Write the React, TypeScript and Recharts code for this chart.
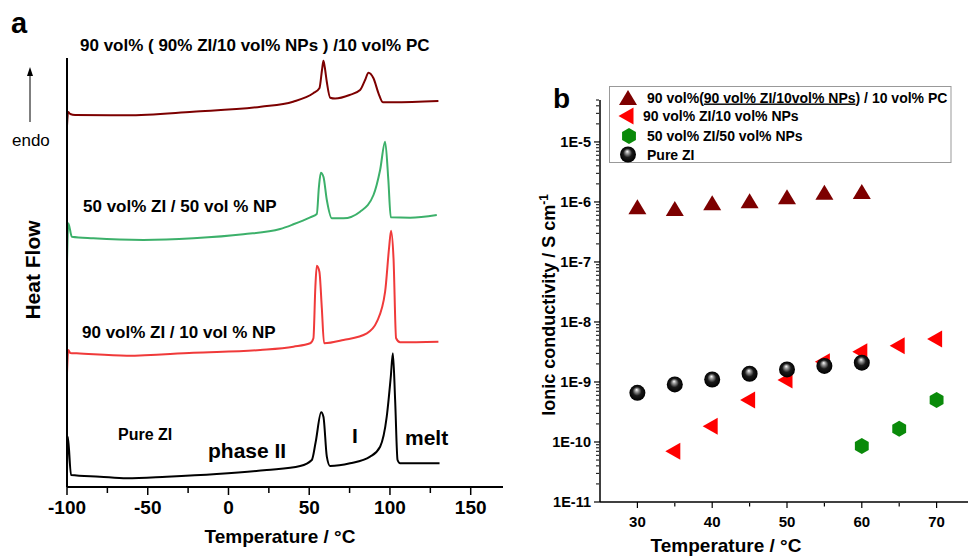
import React from 'react';
import { LineChart, Line, ScatterChart, Scatter, XAxis, YAxis } from 'recharts';

const FONT = '"Liberation Sans", Arial, Helvetica, sans-serif';

// ---- panel a: DSC traces, [temperature in °C, heat flow (a.u., stacked)] ----
const pcTrace: [number, number][] = [
  [-100, 361], [-99.3, 375], [-98, 373], [-95, 372], [-63, 371.7], [-22, 375.3],
  [20, 380.3], [40, 385.3], [52.5, 393.7], [56.3, 398.7], [58, 418], [58.8, 426.3],
  [59.6, 420], [60.9, 405], [63, 389.3], [66, 388.5], [75, 392], [81.5, 397],
  [84.6, 407], [86.7, 414.3], [89.8, 408.7], [92.9, 393.7], [95.6, 384.7],
  [102, 384.7], [130, 386],
];
const np50Trace: [number, number][] = [
  [-100, 225.3], [-99.2, 263.7], [-97, 250.3], [-83.7, 248.7], [-52.7, 247],
  [-21.7, 248.7], [9.2, 252.7], [32, 258], [40.2, 262.7], [50.6, 269.7], [54.7, 273],
  [56, 300], [57.2, 314.3], [58.8, 310.3], [60.9, 287], [64, 268.7], [71.2, 268.7],
  [81.5, 275.3], [89.8, 292], [93.9, 317], [97, 345.3], [99, 307], [100.5, 269.7],
  [112.5, 269.3], [129, 272],
];
const np10Trace: [number, number][] = [
  [-100, 113.7], [-99.2, 137], [-98, 134], [-94, 133.7], [-63, 131.3], [-21.7, 134.3],
  [19.6, 137], [40.2, 140.3], [50.6, 143.7], [52.6, 148.7], [53.8, 200], [54.7, 221.3],
  [56.3, 215.3], [57.8, 179], [59.2, 143.7], [71.2, 147], [85.7, 153.7], [91.9, 165.3],
  [97, 195.3], [99.5, 240], [100.7, 256.3], [102.2, 228.7], [103.8, 148.7],
  [106.3, 144.7], [130, 145.3],
];
const pureTrace: [number, number][] = [
  [-100, 15], [-99.5, 50.3], [-97.5, 12], [-79.6, 10.3], [-63, 8.7], [-38.2, 10.3],
  [-7.3, 13], [23.7, 17], [44.4, 21], [51.6, 27], [54, 45], [57.4, 74.7], [58.8, 70.3],
  [60.9, 30.3], [62.9, 21], [75.3, 23.7], [87.7, 30.3], [93.9, 40.3], [98, 70.3],
  [100.5, 110], [101.8, 133.7], [103.2, 87], [104.7, 27], [106.3, 23.7], [130.7, 23.7],
];

const dscTicks = [-100, -50, 0, 50, 100, 150];
const dscMinorTicks = [-75, -25, 25, 75, 125];

// ---- panel b: ionic conductivity (S cm-1) vs temperature ----
const pcTemps = [30, 35, 40, 45, 50, 55, 60];
const pcCond = [8.3e-7, 7.8e-7, 9.7e-7, 1.05e-6, 1.22e-6, 1.45e-6, 1.49e-6];
const np10Temps = [35, 40, 45, 50, 55, 60, 65, 70];
const np10Cond = [7.0e-11, 1.83e-10, 5.0e-10, 1.08e-9, 2.17e-9, 3.2e-9, 4.0e-9, 5.2e-9];
const np50Temps = [60, 65, 70];
const np50Cond = [8.6e-11, 1.67e-10, 5.0e-10];
const pureTemps = [30, 35, 40, 45, 50, 55, 60];
const pureCond = [6.6e-10, 9.1e-10, 1.1e-9, 1.37e-9, 1.62e-9, 1.85e-9, 2.1e-9];

const condTicks = [30, 40, 50, 60, 70];
const condMinorTicks = [35, 45, 55, 65];
const decadeTicks = [1e-11, 1e-10, 1e-9, 1e-8, 1e-7, 1e-6, 1e-5];
const decadeLabels = ['1E-11', '1E-10', '1E-9', '1E-8', '1E-7', '1E-6', '1E-5'];
const minorSteps = [2, 3, 4, 5, 6, 7, 8, 9];
const decadeMinor = decadeTicks.flatMap((d) => minorSteps.map((k) => k * d)).filter((v) => v <= 5e-5);

const toCurve = (pts: [number, number][]) => pts.map(([t, h]) => ({ t, h }));
const toPoints = (xs: number[], ys: number[]) => xs.map((x, i) => ({ x, y: ys[i] }));

const DARK_RED = '#7d0000';
const RED = '#ff0000';
const GREEN = '#0a8a0a';

const noTick = () => <g />;

const decadeTick = (p: any) => (
  <text x={p.x} y={p.y} dy={5} textAnchor="end" fontSize={14.5} fontWeight={700} fontFamily={FONT} fill="#000">
    {decadeLabels[p.index]}
  </text>
);

// marker shapes
const upTriangle = (cx: number, cy: number) => (
  <polygon points={`${cx},${cy - 7.5} ${cx + 9},${cy + 7.5} ${cx - 9},${cy + 7.5}`} fill={DARK_RED} />
);
const leftTriangle = (cx: number, cy: number) => (
  <polygon points={`${cx - 8.5},${cy} ${cx + 6.5},${cy - 8.5} ${cx + 6.5},${cy + 8.5}`} fill={RED} />
);
const hexagon = (cx: number, cy: number) => {
  const r = 8;
  const pts = [-90, -30, 30, 90, 150, 210]
    .map((a) => `${cx + r * Math.cos((a * Math.PI) / 180)},${cy + r * Math.sin((a * Math.PI) / 180)}`)
    .join(' ');
  return <polygon points={pts} fill={GREEN} />;
};
const sphere = (cx: number, cy: number) => <circle cx={cx} cy={cy} r={8} fill="url(#sphereGrad)" />;

const DscPanel = () => (
  <LineChart width={520} height={556} margin={{ top: 58, right: 17, bottom: 67, left: 66 }}>
    <XAxis
      xAxisId="minor" type="number" dataKey="t" domain={[-100, 170]} ticks={dscMinorTicks}
      interval={0} tickSize={5} tick={noTick} axisLine={false}
      tickLine={{ stroke: '#000', strokeWidth: 1.5 }} height={1} allowDataOverflow
    />
    <XAxis
      type="number" dataKey="t" domain={[-100, 170]} ticks={dscTicks} interval={0}
      tickSize={8} tickMargin={6} height={1} allowDataOverflow
      tick={{ fill: '#000', fontSize: 19, fontWeight: 'bold', fontFamily: FONT }}
      axisLine={{ stroke: '#000', strokeWidth: 2 }} tickLine={{ stroke: '#000', strokeWidth: 1.5 }}
    />
    <YAxis
      type="number" dataKey="h" domain={[0, 429]} width={1} tick={false} tickLine={false}
      axisLine={{ stroke: '#000', strokeWidth: 2 }} allowDataOverflow
    />
    <Line data={toCurve(pcTrace)} dataKey="h" type="monotone" stroke={DARK_RED} strokeWidth={2} dot={false} isAnimationActive={false} />
    <Line data={toCurve(np50Trace)} dataKey="h" type="monotone" stroke="#3cb06a" strokeWidth={2} dot={false} isAnimationActive={false} />
    <Line data={toCurve(np10Trace)} dataKey="h" type="monotone" stroke="#f03a3a" strokeWidth={2} dot={false} isAnimationActive={false} />
    <Line data={toCurve(pureTrace)} dataKey="h" type="monotone" stroke="#000" strokeWidth={2} dot={false} isAnimationActive={false} />
  </LineChart>
);

const CondPanel = () => (
  <ScatterChart width={454} height={556} margin={{ top: 100, right: 0, bottom: 52, left: 78 }}>
    <XAxis
      xAxisId="minor" type="number" dataKey="x" domain={[25, 75]} ticks={condMinorTicks}
      interval={0} tickSize={3.5} tick={noTick} axisLine={false}
      tickLine={{ stroke: '#000', strokeWidth: 1.2 }} height={1} allowDataOverflow
    />
    <XAxis
      type="number" dataKey="x" domain={[25, 75]} ticks={condTicks} interval={0}
      tickSize={6} tickMargin={8} height={1} allowDataOverflow
      tick={{ fill: '#000', fontSize: 15, fontWeight: 'bold', fontFamily: FONT }}
      axisLine={{ stroke: '#000', strokeWidth: 1.5 }} tickLine={{ stroke: '#000', strokeWidth: 1.2 }}
    />
    <YAxis
      yAxisId="minor" type="number" dataKey="y" scale="log" domain={[1e-11, 5e-5]}
      ticks={decadeMinor} interval={0} tickSize={3} tick={noTick} axisLine={false}
      tickLine={{ stroke: '#000', strokeWidth: 1 }} width={1} allowDataOverflow
    />
    <YAxis
      type="number" dataKey="y" scale="log" domain={[1e-11, 5e-5]} ticks={decadeTicks}
      interval={0} tickSize={6} tickMargin={3} width={1} allowDataOverflow
      tick={decadeTick}
      axisLine={{ stroke: '#000', strokeWidth: 1.5 }} tickLine={{ stroke: '#000', strokeWidth: 1.2 }}
    />
    <Scatter data={toPoints(pcTemps, pcCond)} dataKey="y" isAnimationActive={false}
      shape={(p: any) => upTriangle(p.cx, p.cy)} />
    <Scatter data={toPoints(np10Temps, np10Cond)} dataKey="y" isAnimationActive={false}
      shape={(p: any) => leftTriangle(p.cx - 1, p.cy)} />
    <Scatter data={toPoints(np50Temps, np50Cond)} dataKey="y" isAnimationActive={false}
      shape={(p: any) => hexagon(p.cx, p.cy)} />
    <Scatter data={toPoints(pureTemps, pureCond)} dataKey="y" isAnimationActive={false}
      shape={(p: any) => sphere(p.cx, p.cy)} />
  </ScatterChart>
);

const bold = { fontFamily: FONT, fontWeight: 'bold' as const, fill: '#000' };

const Overlay = () => (
  <svg width={968} height={556} style={{ position: 'absolute', left: 0, top: 0, pointerEvents: 'none' }}>
    <defs>
      <radialGradient id="sphereGrad" cx="0.5" cy="0.5" r="0.5" fx="0.45" fy="0.3">
        <stop offset="0" stopColor="#ffffff" />
        <stop offset="0.22" stopColor="#9a9a9a" />
        <stop offset="0.55" stopColor="#1a1a1a" />
        <stop offset="1" stopColor="#000000" />
      </radialGradient>
    </defs>

    {/* panel a */}
    <text x={11} y={33} fontSize={29} {...bold}>a</text>
    <text x={80} y={50.5} fontSize={17} {...bold}>90 vol% ( 90% ZI/10 vol% NPs ) /10 vol% PC</text>
    <line x1={30} y1={122} x2={30} y2={74} stroke="#000" strokeWidth={1} />
    <polygon points="30,67 27,76 33,76" fill="#000" />
    <text x={12} y={145.5} fontSize={17} fontFamily={FONT} fill="#000">endo</text>
    <text transform="translate(40,270) rotate(-90)" textAnchor="middle" fontSize={21} {...bold}>Heat Flow</text>
    <text x={83} y={212} fontSize={17} {...bold}>50 vol% ZI / 50 vol % NP</text>
    <text x={82} y={338} fontSize={17} {...bold}>90 vol% ZI / 10 vol % NP</text>
    <text x={118} y={440} fontSize={16} {...bold}>Pure ZI</text>
    <text x={208} y={458} fontSize={21} {...bold}>phase II</text>
    <text x={352} y={443} fontSize={21} {...bold}>I</text>
    <text x={405} y={445} fontSize={21} {...bold}>melt</text>
    <text x={280} y={543} textAnchor="middle" fontSize={19} {...bold}>Temperature / °C</text>

    {/* panel b */}
    <text x={553} y={108} fontSize={28} {...bold}>b</text>
    <text transform="translate(555,305) rotate(-90)" textAnchor="middle" fontSize={18} {...bold}>
      Ionic conductivity / S cm<tspan dy={-7} fontSize={12}>-1</tspan>
    </text>
    <text x={726} y={552} textAnchor="middle" fontSize={19} {...bold}>Temperature / °C</text>

    <rect x={609.5} y={86.5} width={341.5} height={76} fill="#fff" stroke="#999" strokeWidth={1} />
    {upTriangle(628, 97.5)}
    <text x={647} y={102.5} fontSize={14} {...bold}>
      90 vol%(<tspan textDecoration="underline">90 vol% ZI/10vol% NPs</tspan>) / 10 vol% PC
    </text>
    {leftTriangle(627, 116)}
    <text x={643} y={121} fontSize={14} {...bold}>90 vol% ZI/10 vol% NPs</text>
    {hexagon(629, 136)}
    <text x={647} y={141} fontSize={14} {...bold}>50 vol% ZI/50 vol% NPs</text>
    {sphere(628, 154.5)}
    <text x={647} y={159.5} fontSize={14} {...bold}>Pure ZI</text>
  </svg>
);

export default function App() {
  return (
    <div style={{ position: 'absolute', left: 0, top: 0, width: 968, height: 556, overflow: 'hidden', background: '#fff' }}>
      <div style={{ position: 'absolute', left: 0, top: 0 }}>
        <DscPanel />
      </div>
      <div style={{ position: 'absolute', left: 520, top: 0 }}>
        <CondPanel />
      </div>
      <Overlay />
    </div>
  );
}
